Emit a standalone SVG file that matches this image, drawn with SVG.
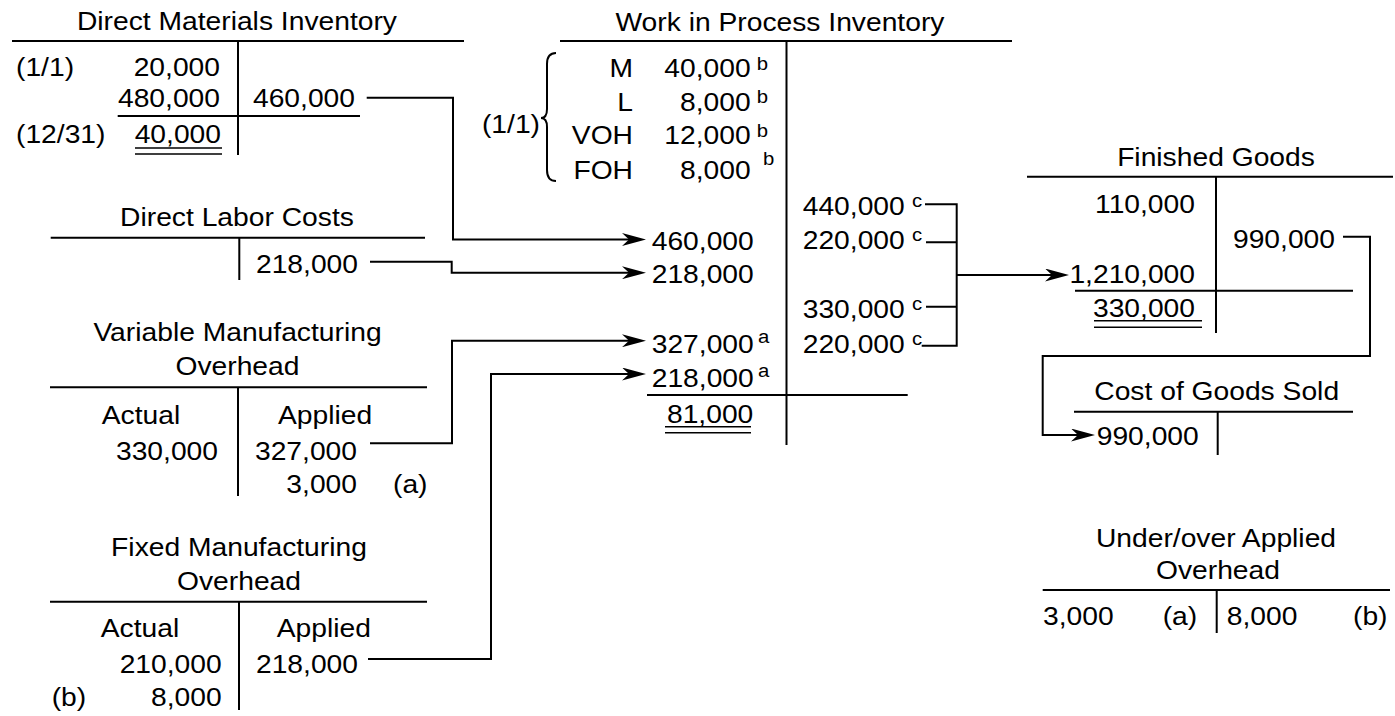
<svg xmlns="http://www.w3.org/2000/svg" width="1395" height="716" viewBox="0 0 1395 716">
<style>
.t{font-family:"Liberation Sans",Arial,Helvetica,sans-serif;font-size:25px;fill:#000;transform-box:fill-box;transform:scaleX(1.13)}
.sup{font-size:18px}
.s{text-anchor:start;transform-origin:left center}
.m{text-anchor:middle;transform-origin:center}
.e{text-anchor:end;transform-origin:right center}
.ln{fill:none;stroke:#000;stroke-width:2}
.ul{fill:none;stroke:#000;stroke-width:1.6}
</style>
<defs>
<marker id="arr" markerUnits="userSpaceOnUse" viewBox="0 0 24 13" markerWidth="24" markerHeight="13" refX="12" refY="6.5" orient="auto">
<path d="M0,0 L24,6.5 L0,13 L7,6.5 Z" fill="#000"/>
</marker>
</defs>
<rect width="1395" height="716" fill="#fff"/>

<g id="dm">
<text class="t m" x="237" y="30">Direct Materials Inventory</text>
<path class="ln" d="M12,41 H464 M238,41 V155 M117.7,116 H360"/>
<text class="t s" x="16" y="76">(1/1)</text>
<text class="t e" x="220" y="76">20,000</text>
<text class="t e" x="220" y="107">480,000</text>
<text class="t e" x="355" y="107">460,000</text>
<text class="t s" x="16" y="143">(12/31)</text>
<text class="t e" x="221" y="143">40,000</text>
<path class="ul" d="M135,148 H222 M135,154 H222"/>
</g>

<g id="dl">
<text class="t m" x="237" y="226">Direct Labor Costs</text>
<path class="ln" d="M50.7,237.7 H425 M239.3,237.7 V280"/>
<text class="t e" x="358" y="273">218,000</text>
</g>

<g id="vmoh">
<text class="t m" x="237.5" y="341">Variable Manufacturing</text>
<text class="t m" x="237.5" y="375.5">Overhead</text>
<path class="ln" d="M50,387.3 H427 M238,387.3 V496"/>
<text class="t s" x="101.7" y="424">Actual</text>
<text class="t s" x="278" y="424">Applied</text>
<text class="t e" x="218" y="460">330,000</text>
<text class="t e" x="357" y="460">327,000</text>
<text class="t e" x="357" y="493">3,000</text>
<text class="t s" x="393" y="493">(a)</text>
</g>

<g id="fmoh">
<text class="t m" x="239" y="556">Fixed Manufacturing</text>
<text class="t m" x="239" y="590">Overhead</text>
<path class="ln" d="M50,601.7 H427 M239,601.7 V710"/>
<text class="t s" x="100.7" y="637">Actual</text>
<text class="t s" x="276.7" y="637">Applied</text>
<text class="t e" x="221.7" y="673">210,000</text>
<text class="t e" x="358" y="673">218,000</text>
<text class="t s" x="51.7" y="706">(b)</text>
<text class="t e" x="221.7" y="706">8,000</text>
</g>

<g id="wip">
<text class="t m" x="780" y="31">Work in Process Inventory</text>
<path class="ln" d="M560,41 H1012 M786.5,41 V445 M647,395 H907.7"/>
<path class="ln" d="M556,53 Q547,53 547,64 L547,109 Q547,118 541,118 Q547,118 547,127 L547,170 Q547,181 556,181"/>
<text class="t e" x="540" y="133">(1/1)</text>
<text class="t e" x="633" y="77">M</text>
<text class="t e" x="750.7" y="77">40,000</text>
<text class="t sup s" x="756.7" y="70">b</text>
<text class="t e" x="633" y="110.7">L</text>
<text class="t e" x="750.7" y="110.7">8,000</text>
<text class="t sup s" x="756.7" y="103.5">b</text>
<text class="t e" x="633" y="144">VOH</text>
<text class="t e" x="750.7" y="144">12,000</text>
<text class="t sup s" x="756.7" y="137">b</text>
<text class="t e" x="633" y="179">FOH</text>
<text class="t e" x="750.7" y="179">8,000</text>
<text class="t sup s" x="763" y="165">b</text>
<text class="t s" x="651.7" y="250">460,000</text>
<text class="t s" x="651.7" y="283.3">218,000</text>
<text class="t s" x="651.7" y="353.3">327,000</text>
<text class="t sup s" x="758" y="343.3">a</text>
<text class="t s" x="651.7" y="386.7">218,000</text>
<text class="t sup s" x="758" y="377.3">a</text>
<text class="t e" x="753.3" y="422.7">81,000</text>
<path class="ul" d="M665,426.7 H751 M665,432.7 H751"/>
<text class="t s" x="802.7" y="215">440,000</text>
<text class="t sup s" x="912" y="207">c</text>
<text class="t s" x="802.7" y="249.3">220,000</text>
<text class="t sup s" x="912" y="241.5">c</text>
<text class="t s" x="802.7" y="318.3">330,000</text>
<text class="t sup s" x="912" y="310.5">c</text>
<text class="t s" x="802.7" y="353.3">220,000</text>
<text class="t sup s" x="912" y="345.5">c</text>
</g>

<g id="fg">
<text class="t m" x="1216" y="166">Finished Goods</text>
<path class="ln" d="M1027,176.7 H1393 M1216,176.7 V333 M1075,290.7 H1353"/>
<text class="t e" x="1195" y="213">110,000</text>
<text class="t e" x="1335" y="248">990,000</text>
<text class="t e" x="1195" y="283">1,210,000</text>
<text class="t e" x="1195" y="316.7">330,000</text>
<path class="ul" d="M1094,320.7 H1202 M1094,327.3 H1202"/>
</g>

<g id="cogs">
<text class="t m" x="1216.7" y="400">Cost of Goods Sold</text>
<path class="ln" d="M1074,411.7 H1353 M1217.7,411.7 V455"/>
<text class="t s" x="1096.7" y="445">990,000</text>
</g>

<g id="uoa">
<text class="t m" x="1216" y="546.7">Under/over Applied</text>
<text class="t m" x="1218" y="579">Overhead</text>
<path class="ln" d="M1042.7,590 H1390 M1216.7,590 V633"/>
<text class="t s" x="1043" y="625">3,000</text>
<text class="t s" x="1162.7" y="625">(a)</text>
<text class="t s" x="1226.7" y="625">8,000</text>
<text class="t s" x="1353" y="625">(b)</text>
</g>

<g id="connectors">
<path class="ln" d="M366.7,97.7 H453 V239.5 H634" marker-end="url(#arr)"/>
<path class="ln" d="M370,261.7 H451.7 V272.7 H634" marker-end="url(#arr)"/>
<path class="ln" d="M370,443.3 H452 V340.7 H634" marker-end="url(#arr)"/>
<path class="ln" d="M368,659 H491 V374 H634" marker-end="url(#arr)"/>
<path class="ln" d="M925,204.3 H956.7 V345.7 H921.7 M926,242.3 H956.7 M926,306.7 H956.7"/>
<path class="ln" d="M956.7,275 H1057" marker-end="url(#arr)"/>
<path class="ln" d="M1343,236.7 H1370 V356 H1042.7 V435 H1083" marker-end="url(#arr)"/>
</g>
</svg>
